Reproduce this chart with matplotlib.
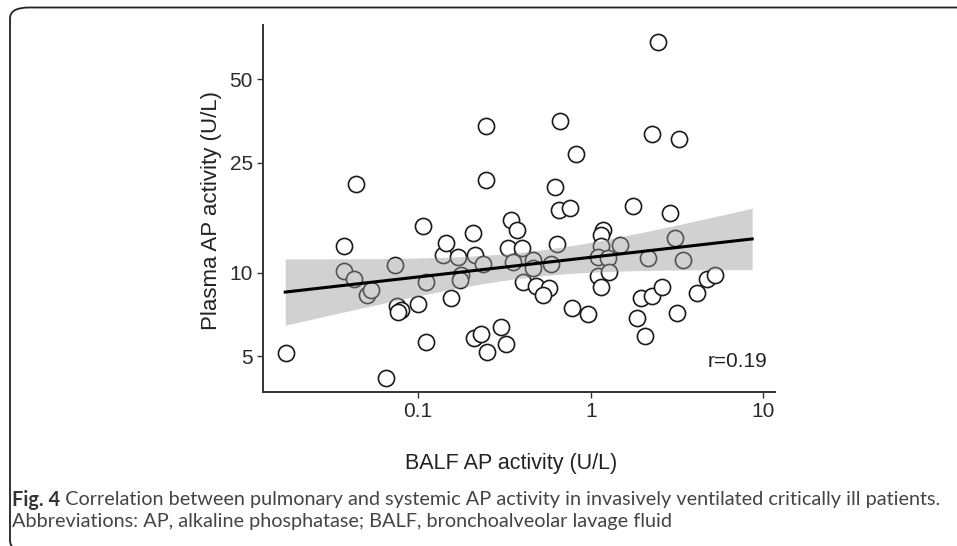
#!/usr/bin/env python3
# Fig. 4 - BALF vs plasma AP activity, log-log scatter with linear fit + 95% CI

import numpy as np
import matplotlib
matplotlib.use("Agg")
import matplotlib.pyplot as plt
from matplotlib.patches import FancyBboxPatch
from matplotlib import font_manager

# ----------------------------------------------------------
# DATA
# ----------------------------------------------------------

balf_ap = [
    0.0171, 0.0370, 0.0370, 0.0423, 0.0438, 0.0505, 0.0537, 0.0648, 0.0731, 0.0756,
    0.0792, 0.0760, 0.0997, 0.1066, 0.1116, 0.1116, 0.1393, 0.1457, 0.1553, 0.170,
    0.178, 0.174, 0.2078, 0.2126, 0.2375, 0.2099, 0.2325, 0.2505, 0.2485, 0.2485,
    0.3036, 0.3215, 0.347, 0.374, 0.3316, 0.402, 0.3543, 0.4642, 0.463, 0.4062,
    0.480, 0.5746, 0.529, 0.6377, 0.5918, 0.667, 0.819, 0.6184, 0.6524, 0.7606,
    0.781, 0.9646, 1.178, 1.153, 1.153, 1.102, 1.26, 1.473, 1.102, 1.280,
    1.153, 1.759, 2.436, 2.248, 3.251, 2.871, 2.149, 3.069, 3.415, 1.942,
    2.248, 2.570, 1.84, 2.056, 3.152, 4.117, 4.686, 5.234,
]

plasma_ap = [
    5.14, 12.52, 10.17, 9.49, 20.9, 8.31, 8.66, 4.15, 10.66, 7.58,
    7.33, 7.21, 7.69, 14.75, 9.28, 5.63, 11.59, 12.77, 8.07, 11.42,
    9.81, 9.41, 13.88, 11.54, 10.75, 5.79, 6.00, 5.18, 33.9, 21.6,
    6.37, 5.52, 15.44, 14.21, 12.25, 12.25, 10.96, 11.11, 10.37, 9.28,
    8.95, 8.77, 8.31, 12.66, 10.72, 35.4, 26.85, 20.46, 16.78, 17.09,
    7.43, 7.09, 14.21, 13.69, 12.49, 11.39, 11.34, 12.59, 9.73, 10.06,
    8.91, 17.35, 68.4, 31.6, 30.35, 16.44, 11.27, 13.31, 11.11, 8.08,
    8.27, 8.84, 6.84, 5.90, 7.17, 8.45, 9.47, 9.81,
]

# smoother as drawn in the figure (end points of the fitted line)
fit_x_range = [0.017, 8.6]
fit_y_ends = [8.51, 13.24]
r_label = "r=0.19"

x_ticks = [0.1, 1, 10]
x_ticklabels = ["0.1", "1", "10"]
y_ticks = [5, 10, 25, 50]
y_ticklabels = ["5", "10", "25", "50"]

caption_bold = "Fig. 4"
caption_rest = (" Correlation between pulmonary and systemic AP activity in invasively "
                "ventilated critically ill patients.")
caption_line2 = "Abbreviations: AP, alkaline phosphatase; BALF, bronchoalveolar lavage fluid"

# ----------------------------------------------------------
# FIT LINE + 95% CI (band width from the residual scatter, log10 scale)
# ----------------------------------------------------------

lx = np.log10(balf_ap)
ly = np.log10(plasma_ap)
n = len(lx)

lx0, lx1 = np.log10(fit_x_range)
ly0, ly1 = np.log10(fit_y_ends)
slope = (ly1 - ly0) / (lx1 - lx0)
icpt = ly0 - slope * lx0

resid = ly - (icpt + slope * lx)
s = np.sqrt(np.sum(resid ** 2) / (n - 2))
sxx = np.sum((lx - lx.mean()) ** 2)
T975 = 1.99

gx = np.linspace(lx0, lx1, 200)
gy = icpt + slope * gx
se = s * np.sqrt(1.0 / n + (gx - lx.mean()) ** 2 / sxx)

# ----------------------------------------------------------
# RENDER
# ----------------------------------------------------------

plt.rcParams["font.family"] = ["Liberation Sans", "DejaVu Sans"]

fig = plt.figure(figsize=(9.57, 5.46), dpi=100)
ax = fig.add_axes([0.2745, 0.2821, 0.5353, 0.6722])

ax.scatter(balf_ap, plasma_ap, s=135, facecolor="white", edgecolor="#1a1a1a",
           linewidth=1.2, zorder=2)
ax.fill_between(10 ** gx, 10 ** (gy - T975 * se), 10 ** (gy + T975 * se),
                color="#999999", alpha=0.45, linewidth=0, zorder=3)
ax.plot(10 ** gx, 10 ** gy, color="black", linewidth=2.2, zorder=4)

ax.set_xscale("log")
ax.set_yscale("log")
ax.set_xlim(0.01259, 11.66)
ax.set_ylim(3.707, 78.5)

ax.set_xticks(x_ticks)
ax.set_xticklabels(x_ticklabels)
ax.set_yticks(y_ticks)
ax.set_yticklabels(y_ticklabels)
ax.minorticks_off()
ax.tick_params(axis="both", length=4, width=1.0, color="#333333",
               labelsize=15, labelcolor="#2a2a2a", pad=3)

for side in ("top", "right"):
    ax.spines[side].set_visible(False)
for side in ("left", "bottom"):
    ax.spines[side].set_color("#333333")
    ax.spines[side].set_linewidth(1.4)

ax.text(0.985, 0.082, r_label, transform=ax.transAxes, ha="right", va="center",
        fontsize=15, color="#222222")

fig.text(511 / 957, 1 - 464 / 546, "BALF AP activity (U/L)", ha="center",
         va="center", fontsize=15.5, color="#222222")
fig.text(211 / 957, 1 - 211 / 546, "Plasma AP activity (U/L)", ha="center",
         va="center", rotation=90, fontsize=16, color="#222222")

# caption - condensed face if present, sized so line 1 spans the original width
names = {f.name for f in font_manager.fontManager.ttflist}
cap_font = ["Liberation Sans Narrow", "DejaVu Sans"] if "Liberation Sans Narrow" in names \
    else ["Lato", "DejaVu Sans"]

CAP_X0, CAP_X1 = 12, 942
cap_size = 12.5
renderer = fig.canvas.get_renderer()
for _ in range(2):
    t1 = fig.text(CAP_X0 / 957, 1 - 500 / 546, caption_bold, ha="left", va="center",
                  fontsize=cap_size, fontweight="bold", family=cap_font, color="#333333")
    bb = t1.get_window_extent(renderer)
    t2 = fig.text(bb.x1 / fig.bbox.width, 1 - 500 / 546, caption_rest, ha="left",
                  va="center", fontsize=cap_size, family=cap_font, color="#444444")
    bb2 = t2.get_window_extent(renderer)
    width = bb2.x1 - bb.x0
    t1.remove()
    t2.remove()
    cap_size *= (CAP_X1 - CAP_X0) / width

t1 = fig.text(CAP_X0 / 957, 1 - 500 / 546, caption_bold, ha="left", va="center",
              fontsize=cap_size, fontweight="bold", family=cap_font, color="#333333")
bb = t1.get_window_extent(renderer)
fig.text(bb.x1 / fig.bbox.width, 1 - 500 / 546, caption_rest, ha="left",
         va="center", fontsize=cap_size, family=cap_font, color="#444444")
fig.text(CAP_X0 / 957, 1 - 522 / 546, caption_line2, ha="left", va="center",
         fontsize=cap_size, family=cap_font, color="#444444")

# rounded frame, open on the right
frame = FancyBboxPatch((10 / 957, -0.01), 1.05, 1 - 7.5 / 546 + 0.01,
                       boxstyle="round,pad=0,rounding_size=0.02",
                       transform=fig.transFigure, fill=False,
                       edgecolor="#222222", linewidth=1.3, clip_on=False)
fig.patches.append(frame)

plt.savefig("out.png", dpi=100)
plt.close(fig)
